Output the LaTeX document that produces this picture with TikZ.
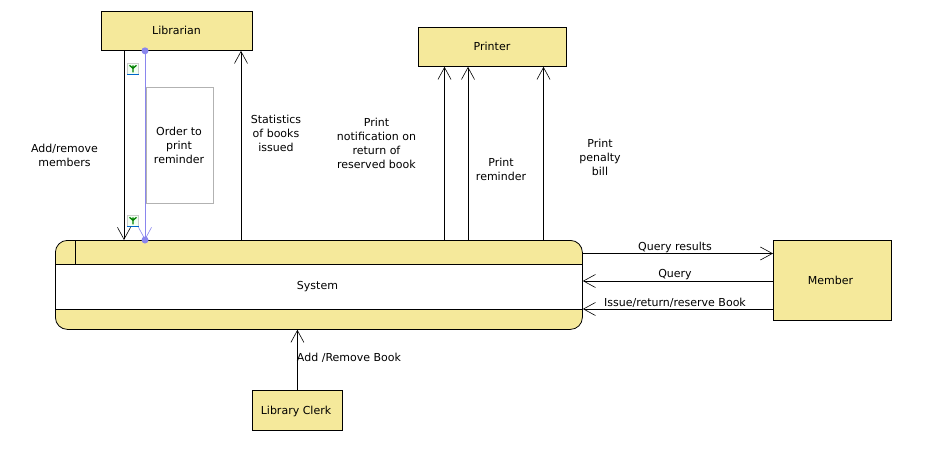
\documentclass[tikz,border=0pt]{standalone}
\usepackage{fontspec}
\setmainfont{DejaVu Sans}
\usetikzlibrary{arrows.meta}
\definecolor{boxfill}{HTML}{F5E99B}
\definecolor{handle}{HTML}{8A86EE}
\tikzset{
  actor/.style={draw=black,fill=boxfill,line width=0.8pt,inner sep=0pt,anchor=north west},
  lab/.style={font=\fontsize{11}{14}\selectfont,align=center,inner sep=0pt},
  arr/.style={draw=black,line width=0.7pt,-{Straight Barb[length=12pt,width=13pt,line width=0.6pt]}},
  sel/.style={draw=handle,line width=0.7pt,-{Straight Barb[length=12pt,width=13pt,line width=0.6pt,color=handle]}},
  dot/.style={circle,fill=handle,minimum size=7pt,inner sep=0pt},
  note/.style={draw=black!30,line width=0.6pt},
}
\begin{document}
\begin{tikzpicture}[x=1pt,y=-1pt]
\useasboundingbox (0,0) rectangle (941,465);
% actors
\node[actor,minimum width=151pt,minimum height=39pt] (lib) at (101,11) {};
\node[lab] at (176.5,30.5) {Librarian};
\node[actor,minimum width=148pt,minimum height=39pt] (pri) at (418,27) {};
\node[lab] at (492,46.5) {Printer};
\node[actor,minimum width=118pt,minimum height=80pt] (mem) at (773,240) {};
\node[lab] at (830.5,280.5) {Member};
\node[actor,minimum width=90pt,minimum height=40pt] (clk) at (252,390) {};
\node[lab] at (296,411) {Library Clerk};
% system
\node[draw=black,fill=boxfill,line width=0.8pt,rounded corners=12pt,minimum width=527pt,minimum height=89pt,inner sep=0pt,anchor=north west] (sys) at (55,240) {};
\fill[white] (55.4,264) rectangle (581.6,309);
\draw[black,line width=0.8pt] (55,264) -- (582,264) (55,309) -- (582,309) (75,240) -- (75,264) (55,264) -- (55,309) (582,264) -- (582,309);
\node[lab] at (317.5,286.5) {System};
% x positions
\coordinate (xa) at (124,0);
\coordinate (xb) at (145,0);
\coordinate (xc) at (241,0);
\coordinate (xd) at (444.5,0);
\coordinate (xe) at (468,0);
\coordinate (xf) at (543.5,0);
\coordinate (ya) at (0,253.5);
\coordinate (yb) at (0,281);
\coordinate (yc) at (0,309);
% note
\node[note,minimum width=67.5pt,minimum height=116pt,inner sep=0pt,anchor=north west] (nt) at (145.5,87) {};
\node[lab] at (179,145.5) {Order to\\print\\reminder};
% connectors
\draw[arr] (xa |- lib.south) -- (xa |- sys.north);
\draw[sel] (xb |- lib.south) -- (xb |- sys.north);
\node[dot] at (xb |- lib.south) {};
\node[dot] at (xb |- sys.north) {};
\draw[arr] (xc |- sys.north) -- (xc |- lib.south);
\draw[arr] (xd |- sys.north) -- (xd |- pri.south);
\draw[arr] (xe |- sys.north) -- (xe |- pri.south);
\draw[arr] (xf |- sys.north) -- (xf |- pri.south);
\draw[arr] (sys.east |- ya) -- (mem.west |- ya);
\draw[arr] (mem.west |- yb) -- (sys.east |- yb);
\draw[arr] (mem.west |- yc) -- (sys.east |- yc);
\draw[arr] (clk.north) -- (clk.north |- sys.south);
% little icons
\foreach \n/\yy in {ia/69,ib/221}{
  \node[draw=black!20,fill=green!5,minimum width=11pt,minimum height=11pt,inner sep=0pt] (\n) at (133,\yy) {};
  \draw[blue!50!cyan!80!black,line width=1.3pt] (\n.south west) -- (\n.south east);
  \draw[green!50!black,line width=1.3pt] (\n.north) ++(-3.5,2) -- ++(3.5,3) -- ++(3.5,-3) ++(-3.5,0) -- ++(0,7);
}
% labels
\node[lab] at (64.5,155.5) {Add/remove\\members};
\node[lab] at (276,133.5) {Statistics\\of books\\issued};
\node[lab] at (376.5,143) {Print\\notification on\\return of\\reserved book};
\node[lab] at (501,169.5) {Print\\reminder};
\node[lab] at (600,157.5) {Print\\penalty\\bill};
\node[lab] at (675,247.5) {Query results};
\node[lab] at (675,274.5) {Query};
\node[lab] at (675,303) {Issue/return/reserve Book};
\node[lab] at (349,357.5) {Add /Remove Book};
\end{tikzpicture}
\end{document}
